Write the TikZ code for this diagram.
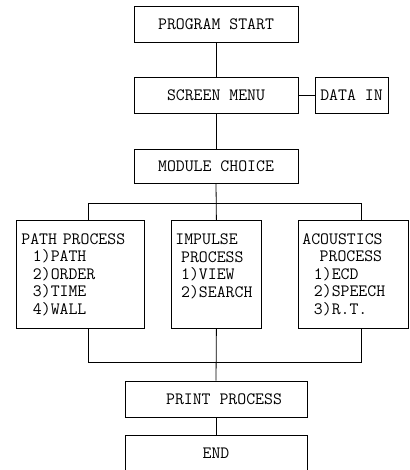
\documentclass[tikz,border=0pt]{standalone}
\usepackage{fontspec}
\begin{document}
\begin{tikzpicture}[x=1pt,y=-1pt,
  font=\ttfamily\fontsize{17.3}{17.5}\selectfont,
  line width=0.8pt,
  box/.style={draw, inner sep=0pt, minimum height=36pt},
  listbox/.style={draw, inner sep=0pt, minimum height=108pt, align=left, anchor=north west}]
\fill[white] (0,0) rectangle (409,470);
\useasboundingbox (0,0) rectangle (409,470);
\clip (0,0) rectangle (409,470);
\node[box, minimum width=164pt] (start) at (216,24.5) {PROGRAM START};
\node[box, minimum width=164pt] (menu) at (216,95.5) {SCREEN MENU\hspace{12pt}};
\node[box, minimum width=73pt] (data) at (351.5,95.5) {DATA IN};
\node[box, minimum width=164pt, minimum height=34pt] (module) at (216,166) {MODULE CHOICE\hspace{18pt}};
\node[listbox, minimum width=128pt, text width=118pt] (path) at (16,220)
  {PATH PROCESS\\~~1)PATH\\~~2)ORDER\\~~3)TIME\\~~4)WALL};
\node[listbox, minimum width=90pt, text width=82pt] (imp) at (171,220)
  {IMPULSE\\~PROCESS\\~1)VIEW\\~2)SEARCH\\~};
\node[listbox, minimum width=110pt, text width=102pt] (acou) at (298,220)
  {ACOUSTICS\\~~~PROCESS\\~~1)ECD\\~~2)SPEECH\\~~3)R.T.};
\node[box, minimum width=182pt] (print) at (216,399) {\hspace{16pt}PRINT PROCESS};
\node[box, minimum width=182pt] (end) at (216,453) {END};
\coordinate (bl) at (88,203);
\coordinate (br) at (361,203);
\coordinate (cl) at (88,362.5);
\coordinate (cr) at (361,362.5);
\draw (start.south) -- (menu.north);
\draw (menu.east) -- (data.west);
\draw (menu.south) -- (module.north);
\draw (module.south) -- (imp.north);
\draw (bl |- path.north) -- (bl) -- (br) -- (br |- acou.north);
\draw (cl |- path.south) -- (cl) -- (cr) -- (cr |- acou.south);
\draw (imp.south) -- (print.north);
\draw (print.south) -- (end.north);
\end{tikzpicture}
\end{document}
